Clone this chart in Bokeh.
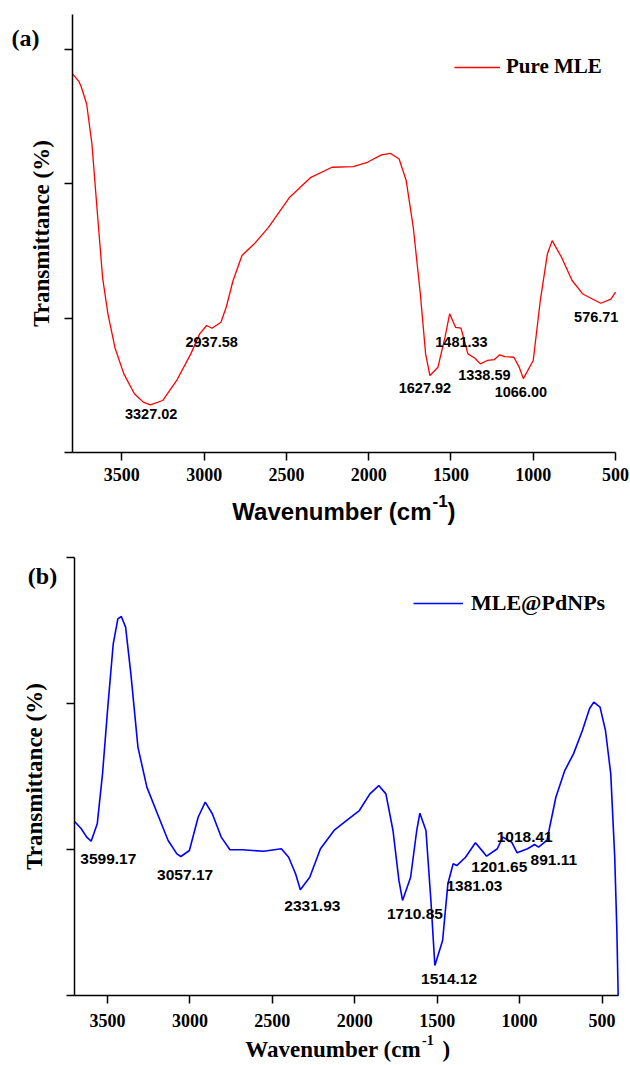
from bokeh.plotting import figure
from bokeh.models import Range1d, FixedTicker, Legend, LegendItem, Label, LabelSet, ColumnDataSource
from bokeh.layouts import column
from bokeh.embed import file_html
from bokeh.resources import INLINE
from bokeh.core.properties import value

# ---------------- data ----------------
mle_wavenumber = [3800, 3760, 3746, 3714, 3682, 3650, 3617, 3585, 3542, 3488, 3424, 3370, 3327,
                  3252, 3167, 3081, 3027, 2985, 2952, 2898, 2866, 2824, 2770, 2695, 2609, 2480,
                  2351, 2223, 2094, 2008, 1922, 1869, 1815, 1772, 1729, 1686, 1654, 1628, 1579,
                  1536, 1508, 1472, 1439, 1397, 1354, 1322, 1279, 1236, 1204, 1172, 1118, 1085,
                  1060, 1000, 957, 914, 885, 828, 764, 699, 590, 528, 500]
mle_transmittance = [2.818, 2.76, 2.718, 2.594, 2.297, 1.80, 1.30, 1.034, 0.78, 0.585, 0.437, 0.375, 0.355,
                     0.387, 0.536, 0.734, 0.883, 0.945, 0.925, 0.97, 1.081, 1.28, 1.466, 1.553, 1.676, 1.90,
                     2.048, 2.123, 2.128, 2.16, 2.215, 2.227, 2.185, 2.024, 1.676, 1.18, 0.734, 0.573, 0.635,
                     0.858, 1.032, 0.932, 0.925, 0.734, 0.702, 0.66, 0.685, 0.692, 0.727, 0.714, 0.709, 0.635,
                     0.55, 0.685, 1.131, 1.478, 1.577, 1.453, 1.28, 1.18, 1.111, 1.141, 1.193]

pd_wavenumber = [3700, 3695, 3659, 3626, 3599, 3562, 3530, 3498, 3465, 3437, 3416, 3390, 3358, 3315,
                 3261, 3197, 3132, 3079, 3055, 3003, 2950, 2907, 2864, 2810, 2757, 2681, 2552, 2445,
                 2401, 2359, 2330, 2273, 2208, 2122, 2037, 1972, 1908, 1854, 1811, 1768, 1732, 1710,
                 1661, 1624, 1605, 1568, 1538, 1514, 1467, 1435, 1403, 1381, 1328, 1268, 1220, 1200,
                 1135, 1102, 1048, 1015, 952, 909, 885, 834, 780, 726, 673, 619, 576, 550, 512, 479,
                 447, 423, 410, 402]
pd_transmittance = [1.19, 1.187, 1.142, 1.085, 1.057, 1.176, 1.518, 1.975, 2.409, 2.58, 2.596, 2.523, 2.203, 1.70,
                    1.427, 1.245, 1.062, 0.97, 0.952, 0.993, 1.221, 1.324, 1.245, 1.085, 0.998, 0.998, 0.988, 1.005,
                    0.947, 0.834, 0.724, 0.81, 1.005, 1.135, 1.21, 1.267, 1.381, 1.438, 1.381, 1.13, 0.788, 0.651,
                    0.81, 1.13, 1.249, 1.13, 0.651, 0.205, 0.377, 0.765, 0.902, 0.89, 0.947, 1.046, 0.982, 0.954,
                    1.005, 1.085, 1.05, 0.977, 1.005, 1.034, 1.016, 1.062, 1.358, 1.541, 1.655, 1.815, 1.964, 2.009,
                    1.975, 1.815, 1.518, 0.95, 0.45, 0.0]

mle_peak_text = ["3327.02", "2937.58", "1627.92", "1481.33", "1338.59", "1066.00", "576.71"]
mle_peak_label_x = [3322, 2954, 1658, 1436, 1297, 1075, 617]
mle_peak_label_y = [0.283, 0.821, 0.481, 0.821, 0.578, 0.454, 1.007]

pd_peak_text = ["3599.17", "3057.17", "2331.93", "1710.85", "1514.12", "1381.03", "1201.65", "1018.41", "891.11"]
pd_peak_label_x = [3495, 3029, 2257, 1635, 1428, 1274, 1123, 969, 792]
pd_peak_label_y = [0.936, 0.827, 0.616, 0.56, 0.114, 0.753, 0.879, 1.089, 0.925]

x_ticks = [3500, 3000, 2500, 2000, 1500, 1000, 500]
y_ticks = [0, 1, 2, 3]

# ---------------- layout ----------------
W = 630
SERIF = "Liberation Serif"
SANS = "Liberation Sans"


def lin(d0, p0, d1, p1):
    """pixel -> data mapping through two known anchor pixels"""
    return lambda px: d0 + (px - p0) * (d1 - d0) / (p1 - p0)


def make_panel(height, x_lo, x_hi, px_left, px_right, y_hi, py_top, py_bottom):
    fx = lin(x_hi, px_left, x_lo, px_right)
    fy = lin(y_hi, py_top, 0.0, py_bottom)
    p = figure(width=W, height=height, x_range=Range1d(fx(0), fx(W)), y_range=Range1d(fy(height), fy(0)),
               output_backend="svg", toolbar_location=None, title=None,
               min_border_left=0, min_border_right=0, min_border_top=0, min_border_bottom=0)
    p.grid.visible = False
    p.outline_line_color = None
    xa, ya = p.xaxis[0], p.yaxis[0]
    xa.fixed_location = 0.0
    xa.bounds = (x_lo, x_hi)
    ya.fixed_location = x_hi
    ya.bounds = (0.0, y_hi)
    for ax in (xa, ya):
        ax.axis_line_color = "black"
        ax.axis_line_width = 1.5
        ax.major_tick_line_color = "black"
        ax.major_tick_line_width = 1.5
        ax.major_tick_out = 8
        ax.major_tick_in = 0
        ax.minor_tick_line_color = None
    xa.ticker = FixedTicker(ticks=x_ticks)
    xa.major_label_text_font = SERIF
    xa.major_label_text_font_style = "bold"
    xa.major_label_text_font_size = "18px"
    xa.major_label_text_color = "black"
    ya.ticker = FixedTicker(ticks=y_ticks)
    ya.major_label_overrides = {t: "" for t in y_ticks}
    ya.major_label_text_font_size = "0px"
    ya.major_label_standoff = 0
    ya.axis_label = "Transmittance (%)"
    ya.axis_label_text_font = SERIF
    ya.axis_label_text_font_style = "bold"
    ya.axis_label_text_font_size = "23px"
    ya.axis_label_text_color = "black"
    return p, fx, fy


def add_label(p, x, y, text, font, size, align="left", baseline="alphabetic"):
    p.add_layout(Label(x=x, y=y, text=text, text_font=font, text_font_style="bold",
                       text_font_size=size, text_color="black", text_align=align,
                       text_baseline=baseline))


def add_peaks(p, xs, ys, texts, size):
    p.add_layout(LabelSet(x="x", y="y", text="t",
                          source=ColumnDataSource(dict(x=xs, y=ys, t=texts)),
                          text_align="center", text_baseline="middle", text_font=value(SANS),
                          text_font_style="bold", text_font_size=size, text_color="black"))


# ---- top panel (page y 0..535) ----
H1 = 535
p1, tx, ty = make_panel(H1, 500, 3800, 72, 615, 3.26, 14, 452)
r1 = p1.line(mle_wavenumber, mle_transmittance, line_color="#ff0000", line_width=1.3)
p1.xaxis.major_label_standoff = 7
p1.yaxis.axis_label_standoff = 11
add_peaks(p1, mle_peak_label_x, mle_peak_label_y, mle_peak_text, "14.5px")
p1.add_layout(Legend(items=[LegendItem(label="Pure MLE", renderers=[r1])], location=(454, H1 - 79),
                     glyph_width=46, glyph_height=20, label_standoff=6, padding=0, margin=0, spacing=0,
                     border_line_color=None, background_fill_alpha=0,
                     label_text_font=SERIF, label_text_font_style="bold", label_text_font_size="21px",
                     label_text_color="black"))
add_label(p1, tx(25), ty(37), "(a)", SERIF, "24px", align="center")
add_label(p1, tx(431), ty(511), "Wavenumber (cm", SANS, "24px", align="right")
add_label(p1, tx(432), ty(500), "-1", SANS, "17px")
add_label(p1, tx(447), ty(511), ")", SANS, "24px")

# ---- bottom panel (page y 535..1064) ----
H2 = 529
OFF = H1
p2, bx, by = make_panel(H2, 400, 3700, 74, 618, 3.0, 557 - OFF, 995 - OFF)
r2 = p2.line(pd_wavenumber, pd_transmittance, line_color="#0000ff", line_width=1.6)
p2.xaxis.major_label_standoff = 10
p2.yaxis.axis_label_standoff = 20
add_peaks(p2, pd_peak_label_x, pd_peak_label_y, pd_peak_text, "15.5px")
p2.add_layout(Legend(items=[LegendItem(label="MLE@PdNPs", renderers=[r2])], location=(413, H2 - (604 - OFF + 12)),
                     glyph_width=50, glyph_height=20, label_standoff=8, padding=0, margin=0, spacing=0,
                     border_line_color=None, background_fill_alpha=0,
                     label_text_font=SERIF, label_text_font_style="bold", label_text_font_size="22px",
                     label_text_color="black"))
add_label(p2, bx(42), by(575 - OFF), "(b)", SERIF, "24px", align="center")
add_label(p2, bx(420.5), by(1049 - OFF), "Wavenumber (cm", SERIF, "23px", align="right")
add_label(p2, bx(421.5), by(1039 - OFF), "-1", SERIF, "14px")
add_label(p2, bx(442), by(1049 - OFF), ")", SERIF, "23px")

layout = column(p1, p2)
open("out.html", "w").write(file_html(layout, INLINE))
